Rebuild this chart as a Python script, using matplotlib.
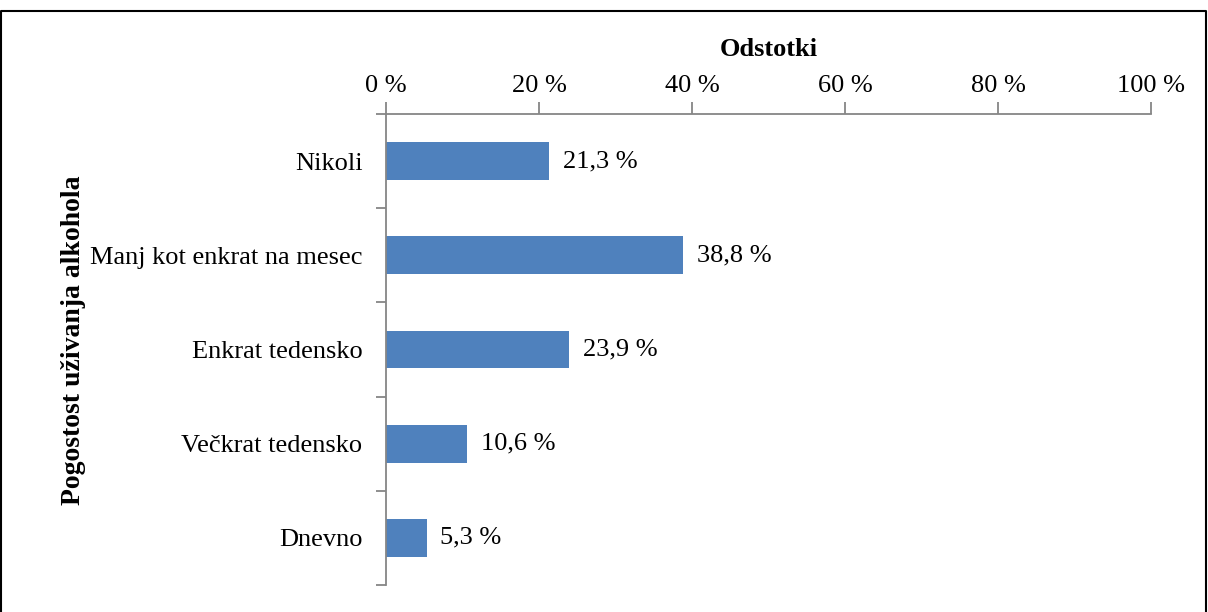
import matplotlib.pyplot as plt
import numpy as np

categories = ["Nikoli", "Manj kot enkrat na mesec", "Enkrat tedensko",
              "Večkrat tedensko", "Dnevno"]
values = [21.3, 38.8, 23.9, 10.6, 5.3]
x_ticks = [0, 20, 40, 60, 80, 100]

plt.rcParams['font.family'] = ['Liberation Serif', 'DejaVu Serif']
fs = 19

fig = plt.figure(figsize=(12.08, 6.12), dpi=100)
ax = fig.add_axes([386 / 1208, 1 - 585 / 612, (1151 - 386) / 1208, (585 - 114) / 612])

y = np.arange(len(categories))
ax.barh(y, values, height=0.4, color='#4F81BD')
for yi, v in zip(y, values):
    ax.text(v + 1.8, yi, f"{v:.1f} %".replace('.', ','), va='center', ha='left', fontsize=fs)

ax.set_xlim(0, 100)
ax.set_ylim(len(categories) - 0.5, -0.5)

# x axis on top
ax.xaxis.tick_top()
ax.xaxis.set_label_position('top')
ax.set_xticks(x_ticks)
ax.set_xticklabels([f"{t} %" for t in x_ticks], fontsize=fs)
ax.set_xlabel("Odstotki", fontsize=fs, fontweight='bold', labelpad=14)

# category labels between boundary ticks
ax.set_yticks(np.arange(len(categories) + 1) - 0.5)
ax.set_yticklabels([])
ax.set_yticks(y, minor=True)
ax.set_yticklabels(categories, minor=True, fontsize=fs)
ax.tick_params(axis='y', which='minor', length=0, pad=17)
ax.tick_params(axis='y', which='major', length=7, color='#868686', width=1.3)
ax.tick_params(axis='x', length=9, color='#868686', width=1.3, pad=3)
ax.set_ylabel("Pogostost uživanja alkohola", fontsize=20, fontweight='bold', labelpad=3)
ax.yaxis.label.set_y(0.52)

for s in ['right', 'bottom']:
    ax.spines[s].set_visible(False)
for s in ['left', 'top']:
    ax.spines[s].set_color('#868686')
    ax.spines[s].set_linewidth(1.3)

# figure border
fig.add_artist(plt.Line2D([0.001, 0.001, 0.998, 0.998], [0, 0.982, 0.982, 0],
                          transform=fig.transFigure, color='black', lw=1.5))

fig.savefig("out.png", dpi=100)
